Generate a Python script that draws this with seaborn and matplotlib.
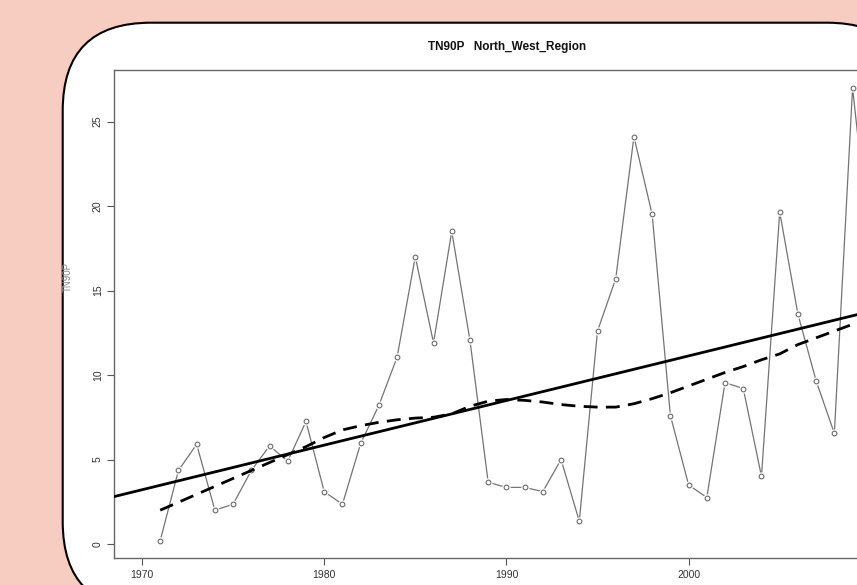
import numpy as np
import pandas as pd
import matplotlib
matplotlib.use("Agg")
import matplotlib.pyplot as plt
import seaborn as sns
from matplotlib.patches import FancyBboxPatch
from matplotlib.transforms import IdentityTransform

# ---- data ----
years = list(range(1971, 2011))
tn90p = [0.2, 4.35, 5.9, 2.0, 2.35, 4.35, 5.8, 4.9, 7.25, 3.1,
         2.35, 5.95, 8.2, 11.05, 17.0, 11.9, 18.5, 12.05, 3.65, 3.35,
         3.35, 3.1, 5.0, 1.35, 12.6, 15.7, 24.1, 19.5, 7.6, 3.5,
         2.75, 9.55, 9.2, 4.0, 19.65, 13.6, 9.65, 6.55, 27.0, 17.0]
loess = [2.0, 2.47, 2.94, 3.41, 3.88, 4.35, 4.82, 5.29, 5.76, 6.3,
         6.75, 7.0, 7.2, 7.35, 7.45, 7.5, 7.7, 8.15, 8.45, 8.55,
         8.5, 8.4, 8.25, 8.15, 8.1, 8.1, 8.3, 8.6, 8.95, 9.35,
         9.75, 10.15, 10.5, 10.9, 11.25, 11.8, 12.2, 12.6, 13.0, 13.3]
trend_slope = 0.264      # per year
trend_at_1970 = 3.21
x_ticks = [1970, 1980, 1990, 2000]
y_ticks = [0, 5, 10, 15, 20, 25]
title = "TN90P   North_West_Region"
ylabel = "TN90P"

df = pd.DataFrame({"year": years, "value": tn90p, "loess": loess})

sns.set_style("white")
plt.rcParams["font.family"] = ["Liberation Sans", "DejaVu Sans"]

W, H = 857, 585
fig = plt.figure(figsize=(W / 100, H / 100), dpi=100)
fig.patch.set_facecolor("#f7cdc2")

# white rounded panel (pixel coordinates)
x0, x1 = 62.7, 915
ytop, ybot = 22.7, 609.6
panel = FancyBboxPatch((x0, H - ybot), x1 - x0, ybot - ytop,
                       boxstyle="round,pad=0,rounding_size=88",
                       transform=IdentityTransform(), facecolor="white",
                       edgecolor="black", linewidth=1.5, zorder=-10)
fig.patches.append(panel)

# axes placement (pixels)
ax_l, ax_r, ax_t, ax_b = 114, 930, 70, 558
ax = fig.add_axes([ax_l / W, (H - ax_b) / H, (ax_r - ax_l) / W, (ax_b - ax_t) / H])
ax.set_zorder(1)
ax.set_facecolor("white")

px_per_year = 18.22
x_at_1970 = 142
ax.set_xlim(1970 + (ax_l - x_at_1970) / px_per_year, 1970 + (ax_r - x_at_1970) / px_per_year)
px_per_unit = 16.9
y0_px = 544
ax.set_ylim((y0_px - ax_b) / px_per_unit, (y0_px - ax_t) / px_per_unit)

# data line with R "type=b" look
sns.lineplot(data=df, x="year", y="value", ax=ax, color="#747474", linewidth=0.9, zorder=2)
ax.plot(df["year"], df["value"], linestyle="none", marker="o", markersize=6.0,
        markerfacecolor="white", markeredgecolor="none", zorder=2.1)
ax.plot(df["year"], df["value"], linestyle="none", marker="o", markersize=3.4,
        markerfacecolor="white", markeredgecolor="#6a6a6a", markeredgewidth=0.8, zorder=2.2)

# loess (dashed)
sns.lineplot(data=df, x="year", y="loess", ax=ax, color="black", linewidth=2.0,
             linestyle=(0, (5, 3)), zorder=3)

# linear trend across full axis
ax.axline((1970, trend_at_1970), slope=trend_slope, color="black", linewidth=2.0, zorder=3)

ax.set_xticks(x_ticks)
ax.set_yticks(y_ticks)
ax.set_xticklabels([str(v) for v in x_ticks])
ax.set_yticklabels([str(v) for v in y_ticks])
ax.tick_params(axis="both", direction="out", length=5, width=0.8, color="#555555",
               labelsize=7.5, labelcolor="#333333", pad=4)
ax.tick_params(axis="y", labelrotation=90, pad=3)
for lab in ax.get_yticklabels():
    lab.set_verticalalignment("center")
ax.tick_params(bottom=True, left=True)

for s in ax.spines.values():
    s.set_color("#666666")
    s.set_linewidth(1.0)

ax.set_xlabel("")
ax.set_ylabel(ylabel, fontsize=7, color="#888888")
ax.yaxis.set_label_coords((73 - ax_l) / (ax_r - ax_l), (ax_b - 277) / (ax_b - ax_t))

fig.text(507 / W, 1 - 47 / H, title, ha="center", va="center",
         fontsize=8.5, fontweight="bold", color="#111111")

fig.savefig("out.png", dpi=100, facecolor=fig.get_facecolor())
